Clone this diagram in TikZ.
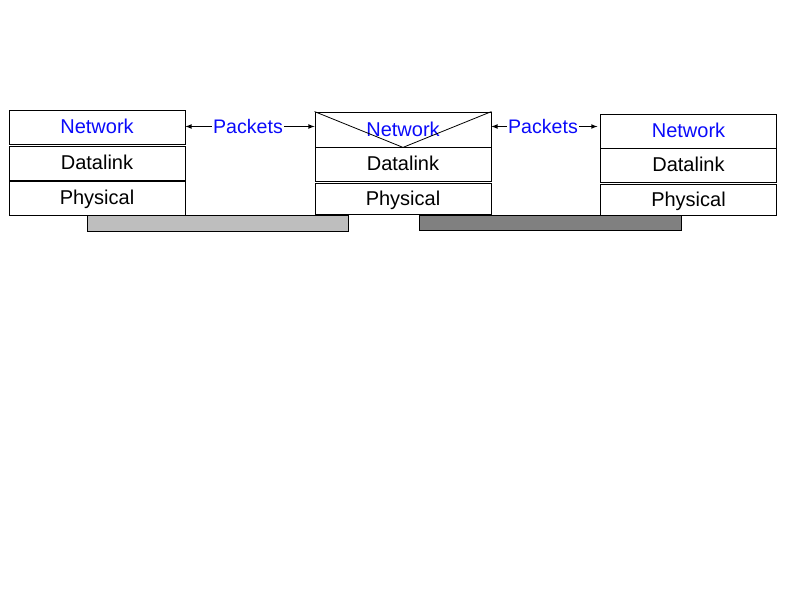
\documentclass[tikz,border=0pt]{standalone}
\usepackage{fontspec}
\setmainfont{Liberation Sans}
\usepackage{xcolor}
\usetikzlibrary{arrows}

\definecolor{lanlight}{RGB}{190,190,190}
\definecolor{landark}{RGB}{128,128,128}
\definecolor{netblue}{RGB}{10,10,250}

\begin{document}
\begin{tikzpicture}[x=0.75pt,y=-0.75pt,
	layer/.style={draw,line width=0.6pt,minimum width=132pt,minimum height=25.5pt,
		inner sep=0pt,text height=10pt,text depth=0pt,
		font=\fontsize{15}{17}\selectfont},
	netlayer/.style={layer,text=netblue},
	bar/.style={draw,line width=0.6pt,inner sep=0pt,minimum height=12pt},
	pkt/.style={inner sep=1pt,text=netblue,text height=10pt,text depth=0pt,
		font=\fontsize{14.7}{17}\selectfont}]
		\useasboundingbox (0,0) rectangle (793,595);
		% links
		\node[bar,fill=lanlight,minimum width=195.75pt] (lan1) at (217.5,223) {};
		\node[bar,fill=landark,minimum width=196.5pt,minimum height=11.25pt] (lan2) at (550,222.5) {};
		% host A
		\node[netlayer] (net1) at (97,127) {Network};
		\node[layer] (dl1) at (97,163) {Datalink};
		\node[layer] (phy1) at (97,198) {Physical};
		% router
		\node[netlayer,minimum height=26.25pt] (net2) at (403,129.5) {Network};
		\node[layer] (dl2) at (403,164) {Datalink};
		\node[layer,minimum height=23.25pt] (phy2) at (403,198.5) {Physical};
		\draw[line width=0.6pt] (net2.north west) -- (net2.south) -- (net2.north east);
		% host B
		\node[netlayer] (net3) at (688.5,131) {Network};
		\node[layer] (dl3) at (688.5,165) {Datalink};
		\node[layer,minimum height=23.25pt] (phy3) at (688.5,199.5) {Physical};
		%
		\node[pkt] (pk1) at (248,126.5) {Packets};
		\node[pkt] (pk2) at (543,126.5) {Packets};
		\path[->,line width=0.6pt,>=latex]
			(pk1.west) edge (pk1.west -| net1.east)
			(pk1.east) edge (pk1.east -| net2.west)
			(pk2.west) edge (pk2.west -| net2.east)
			(pk2.east) edge[shorten >=2pt] (pk2.east -| net3.west);
	\end{tikzpicture}
\end{document}
